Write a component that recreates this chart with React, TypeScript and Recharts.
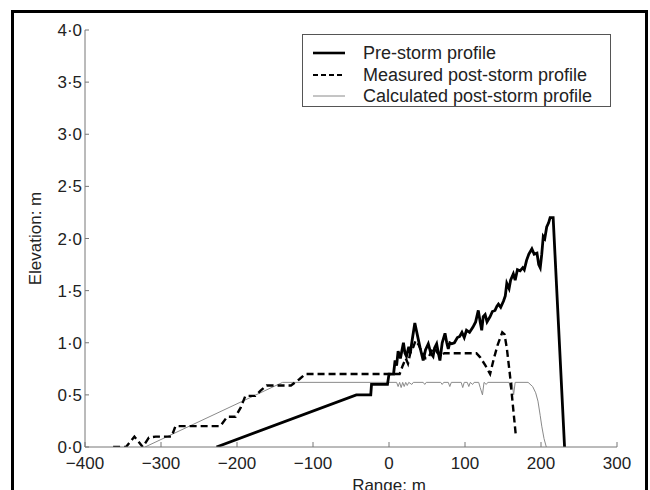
import React from 'react';
import { LineChart, Line, XAxis, YAxis, Legend } from 'recharts';

const FONT = '"Liberation Sans", Arial, Helvetica, sans-serif';

const X_TICKS = [-400, -300, -200, -100, 0, 100, 200, 300];
const Y_TICKS = [0, 0.5, 1, 1.5, 2, 2.5, 3, 3.5, 4];

const preStormRange = [-227, -43, -24, -23, -2, 0, 6, 8, 10, 12, 15, 19, 21, 23, 26, 28, 31, 34, 36, 38.6, 41, 45, 48, 51.7, 55, 58, 60, 62.7, 65, 67, 70, 73.7, 76, 78, 80, 82.5, 86, 90, 93, 96, 99, 102, 106, 110.5, 114, 117.5, 120, 122, 124, 126.5, 129, 133, 136, 139.5, 142, 144, 147, 150.7, 153, 155, 158, 160, 163.6, 166, 169, 172.5, 176, 178, 181, 184, 188, 191, 194.7, 197, 199, 201, 203, 205, 207.5, 210, 212, 216, 231];
const preStormElev = [0, 0.5, 0.5, 0.6, 0.6, 0.7, 0.7, 0.83, 0.78, 0.92, 0.85, 1.0, 0.9, 0.87, 0.96, 0.9, 1.05, 1.19, 1.12, 1.03, 0.95, 0.83, 0.93, 0.99, 0.9, 0.87, 0.95, 0.99, 0.9, 0.83, 1.0, 1.09, 1.0, 0.94, 1.0, 0.99, 1.0, 1.05, 1.06, 1.1, 1.05, 1.12, 1.1, 1.15, 1.2, 1.31, 1.2, 1.12, 1.25, 1.27, 1.2, 1.25, 1.3, 1.31, 1.35, 1.37, 1.34, 1.4, 1.45, 1.57, 1.52, 1.6, 1.66, 1.6, 1.7, 1.69, 1.72, 1.7, 1.79, 1.85, 1.9, 1.85, 1.86, 1.75, 1.72, 1.85, 2.02, 2.0, 2.11, 2.15, 2.2, 2.2, 0];

const measuredRange = [-363, -346, -335, -324, -316, -307, -286, -281, -222, -213, -202, -195, -189, -176, -169, -161, -129, -118, -110, 14, 18, 22, 25, 28, 32, 35, 39, 44, 48, 52, 56, 60, 64, 68, 73, 115, 120, 127, 133, 138, 143, 149, 152, 155, 159, 163, 167];
const measuredElev = [0, 0, 0.1, 0, 0.09, 0.1, 0.1, 0.2, 0.2, 0.29, 0.29, 0.38, 0.49, 0.49, 0.54, 0.59, 0.59, 0.65, 0.7, 0.7, 0.78, 0.85, 0.8, 0.9, 0.96, 1.02, 0.98, 0.9, 0.85, 0.86, 0.92, 0.95, 0.9, 0.88, 0.9, 0.9, 0.86, 0.78, 0.7, 0.85, 0.98, 1.1, 1.08, 0.95, 0.7, 0.4, 0.1];

const calculatedRange = [-321, -140, 10, 12, 14, 16, 18, 20, 22, 24, 26, 30, 32, 45, 47, 49, 68, 70, 72, 78, 80, 82, 95, 97, 99, 103, 105, 107, 110, 112, 118, 120, 123, 125, 128, 130, 158, 160, 162, 164, 166, 183, 189, 193, 196, 199, 201, 204, 207];
const calculatedElev = [0, 0.62, 0.62, 0.58, 0.62, 0.57, 0.62, 0.58, 0.62, 0.59, 0.62, 0.6, 0.62, 0.62, 0.6, 0.62, 0.62, 0.6, 0.62, 0.62, 0.58, 0.62, 0.62, 0.57, 0.62, 0.62, 0.58, 0.62, 0.6, 0.62, 0.62, 0.57, 0.5, 0.62, 0.6, 0.62, 0.62, 0.56, 0.62, 0.5, 0.62, 0.62, 0.58, 0.52, 0.44, 0.3, 0.2, 0.08, 0];

const zip = (xs: number[], ys: number[]) => xs.map((x, i) => ({ x, y: ys[i] }));
const preStormData = zip(preStormRange, preStormElev);
const measuredData = zip(measuredRange, measuredElev);
const calculatedData = zip(calculatedRange, calculatedElev);

const SERIES = [
  { name: 'Pre-storm profile', color: '#000', width: 2.8, dash: undefined as string | undefined },
  { name: 'Measured post-storm profile', color: '#000', width: 2.4, dash: '7 4' },
  { name: 'Calculated post-storm profile', color: '#8a8a8a', width: 1, dash: undefined as string | undefined },
];

const fmtX = (v: number) => (v < 0 ? '\u2212' + Math.abs(v) : String(v));
const fmtY = (v: number) => v.toFixed(1).replace('.', '\u00b7');

const renderLegend = () => (
  <div
    style={{
      width: 309,
      height: 73,
      boxSizing: 'border-box',
      border: '1.5px solid #555',
      background: '#fff',
      fontFamily: FONT,
      fontSize: 18,
      color: '#222',
      position: 'relative',
    }}
  >
    {SERIES.map((s, i) => (
      <div
        key={s.name}
        style={{ position: 'absolute', left: 0, top: 7 + i * 21.5, height: 22, display: 'flex', alignItems: 'center', whiteSpace: 'nowrap' }}
      >
        <svg width={60} height={10} style={{ display: 'block' }}>
          <line x1={10} x2={42} y1={5} y2={5} stroke={s.color} strokeWidth={i === 0 ? 2.6 : i === 1 ? 2.2 : 1} strokeDasharray={i === 1 ? '5 3' : undefined} />
        </svg>
        <span style={{ lineHeight: '22px' }}>{s.name}</span>
      </div>
    ))}
  </div>
);

const YLabel = (props: any) => {
  const { viewBox } = props;
  const cx = viewBox.x + 10;
  const cy = viewBox.y + viewBox.height / 2;
  return (
    <text x={cx} y={cy} transform={`rotate(-90 ${cx} ${cy})`} textAnchor="middle" dominantBaseline="central" fontFamily={FONT} fontSize={17} fill="#222">
      Elevation: m
    </text>
  );
};

const XLabel = (props: any) => {
  const { viewBox } = props;
  const cx = viewBox.x + viewBox.width * (400 / 700);
  return (
    <text x={cx} y={viewBox.y + viewBox.height + 0.5} textAnchor="middle" fontFamily={FONT} fontSize={17} fill="#222">
      Range: m
    </text>
  );
};

export default function App() {
  return (
    <div style={{ position: 'relative', width: 650, height: 490, overflow: 'hidden', background: '#fff' }}>
      <style>{`body{margin:0;overflow:hidden;background:#fff}`}</style>
      <LineChart width={650} height={490} margin={{ top: 30, right: 33, bottom: 0, left: 25 }}>
        <XAxis
          dataKey="x"
          type="number"
          domain={[-400, 300]}
          ticks={X_TICKS}
          tickFormatter={fmtX}
          allowDataOverflow
          height={43}
          tickSize={-5}
          tickMargin={15}
          stroke="#777"
          tick={{ fill: '#222', fontSize: 17, fontFamily: FONT }}
          label={{ content: XLabel }}
        />
        <YAxis
          type="number"
          domain={[0, 4]}
          ticks={Y_TICKS}
          tickFormatter={fmtY}
          allowDataOverflow
          width={60}
          tickSize={-4}
          tickMargin={7}
          stroke="#777"
          tick={{ fill: '#222', fontSize: 17, fontFamily: FONT }}
          label={{ content: YLabel }}
        />
        <Legend
          layout="vertical"
          verticalAlign="middle"
          align="center"
          content={renderLegend}
          wrapperStyle={{ position: 'absolute', left: 302, top: 34, width: 309, height: 73 }}
        />
        <Line data={calculatedData} dataKey="y" name={SERIES[2].name} type="linear" stroke={SERIES[2].color} strokeWidth={SERIES[2].width} dot={false} activeDot={false} isAnimationActive={false} />
        <Line data={measuredData} dataKey="y" name={SERIES[1].name} type="linear" stroke={SERIES[1].color} strokeWidth={SERIES[1].width} strokeDasharray={SERIES[1].dash} dot={false} activeDot={false} isAnimationActive={false} />
        <Line data={preStormData} dataKey="y" name={SERIES[0].name} type="linear" stroke={SERIES[0].color} strokeWidth={SERIES[0].width} dot={false} activeDot={false} isAnimationActive={false} />
      </LineChart>
      <div
        style={{
          position: 'absolute',
          left: 11,
          top: 10,
          width: 637,
          height: 500,
          border: '3px solid #000',
          boxSizing: 'border-box',
          pointerEvents: 'none',
        }}
      />
    </div>
  );
}
